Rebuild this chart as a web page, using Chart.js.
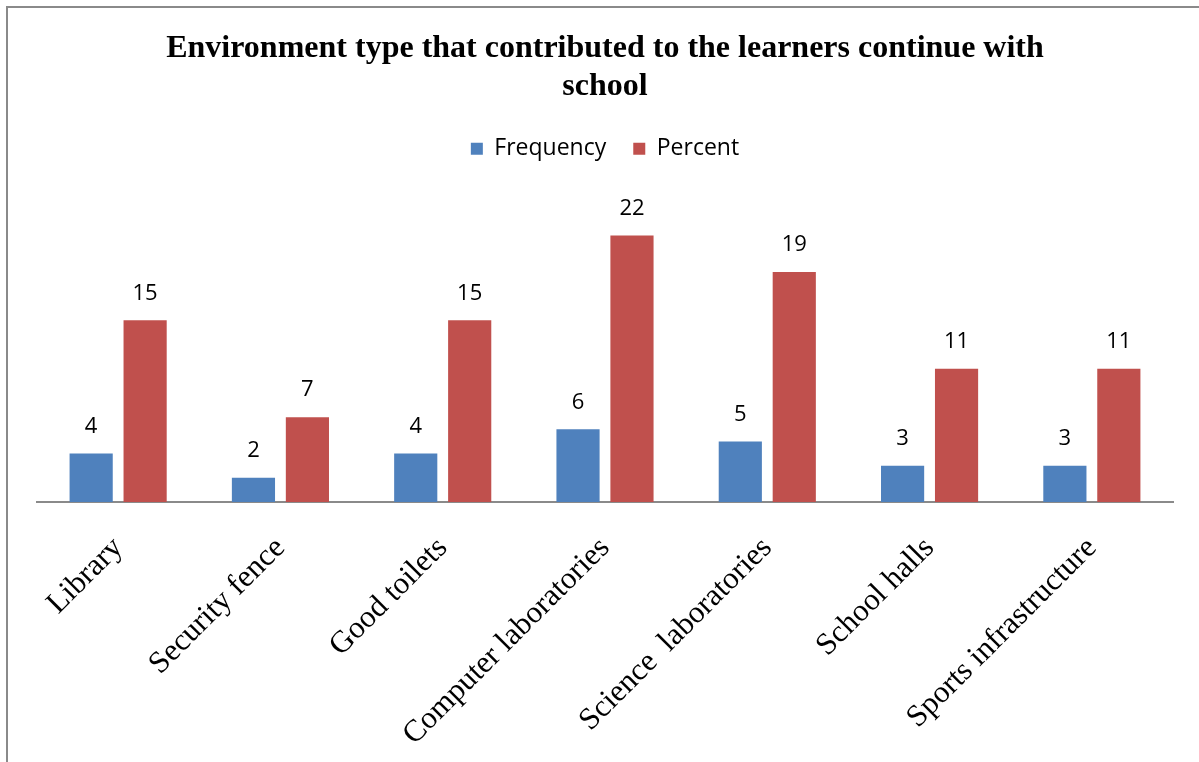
<!DOCTYPE html>
<html>
<head>
<meta charset="utf-8">
<script src="https://cdn.jsdelivr.net/npm/chart.js@4"></script>
<style>
  html, body { margin: 0; padding: 0; background: #fff; }
  #frame {
    position: absolute; left: 6px; top: 6px; width: 1300px; height: 900px;
    border-left: 2px solid #8a8a8a; border-top: 2px solid #8a8a8a;
  }
  #wrap { position: absolute; left: 0; top: 0; width: 1199px; height: 762px; }
</style>
</head>
<body>
<div id="frame"></div>
<div id="wrap"><canvas id="chart" width="1199" height="762"></canvas></div>
<script>
const categories = ['Library', 'Security fence', 'Good toilets', 'Computer laboratories',
  'Science  laboratories', 'School halls', 'Sports infrastructure'];
const frequency = [4, 2, 4, 6, 5, 3, 3];
const percent = [15, 7, 15, 22, 19, 11, 11];
const titleLines = ['Environment type that contributed to the learners continue with', 'school'];

// writes each bar's value just above it
const valueLabels = {
  id: 'valueLabels',
  afterDatasetsDraw(chart) {
    const ctx = chart.ctx;
    ctx.save();
    ctx.font = '22px "Open Sans"';
    ctx.fillStyle = '#000';
    ctx.textAlign = 'center';
    ctx.textBaseline = 'middle';
    chart.data.datasets.forEach((ds, i) => {
      chart.getDatasetMeta(i).data.forEach((bar, j) => {
        ctx.fillText(ds.data[j], bar.x, bar.y - 27);
      });
    });
    ctx.restore();
  }
};

const ctx = document.getElementById('chart').getContext('2d');
const chart = new Chart(ctx, {
  type: 'bar',
  data: {
    labels: categories,
    datasets: [
      { label: 'Frequency', data: frequency, backgroundColor: '#4F81BD' },
      { label: 'Percent', data: percent, backgroundColor: '#C0504D' }
    ]
  },
  options: {
    responsive: false,
    animation: false,
    layout: { padding: { left: 37, right: 26, top: 0, bottom: 0 } },
    datasets: { bar: { categoryPercentage: 0.665, barPercentage: 0.8 } },
    plugins: {
      title: {
        display: true,
        text: titleLines,
        color: '#000',
        font: { family: '"Liberation Serif", "Times New Roman", serif', size: 32, weight: 'bold', lineHeight: 1.19 },
        padding: { top: 30, bottom: 4 }
      },
      legend: {
        position: 'top',
        labels: {
          color: '#000',
          font: { family: '"Open Sans", sans-serif', size: 23 },
          boxWidth: 12,
          boxHeight: 12,
          padding: 27
        }
      },
      tooltip: { enabled: false }
    },
    scales: {
      x: {
        grid: { display: false },
        border: { display: true, color: '#8a8a8a', width: 2 },
        ticks: {
          color: '#000',
          font: { family: '"Liberation Serif", "Times New Roman", serif', size: 31 },
          minRotation: 45,
          maxRotation: 45,
          padding: 20,
          autoSkip: false
        },
        afterFit(scale) { scale.height = 260; }
      },
      y: {
        display: false,
        min: 0,
        max: 27.4
      }
    }
  },
  plugins: [valueLabels]
});
</script>
</body>
</html>
